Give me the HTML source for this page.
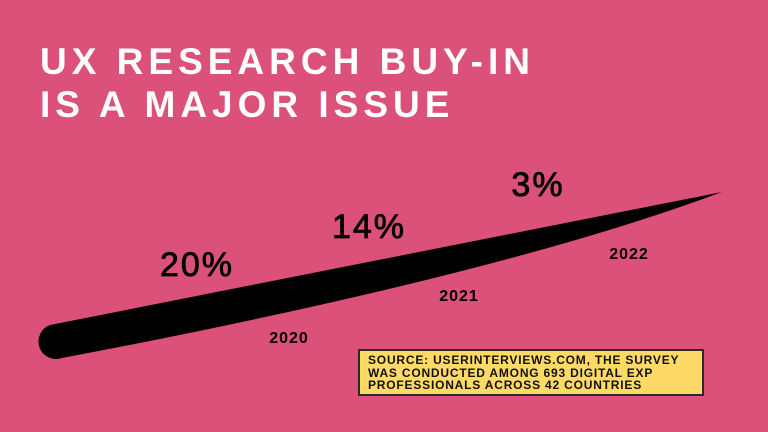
<!DOCTYPE html>
<html><head><meta charset="utf-8"><style>
body{margin:0;width:768px;height:432px;overflow:hidden;background:#dc5179;font-family:"Liberation Sans",sans-serif}
#title{position:absolute;left:40px;top:40px;color:#fff;font-weight:bold;font-size:37px;line-height:43px;letter-spacing:5px;margin:0}
#src{position:absolute;left:358px;top:349px;width:346px;height:47px;background:#fdd966;border:2px solid #2a2a2a;font-weight:bold;font-size:12px;line-height:12.5px;padding:3px 0 0 8px;box-sizing:border-box;letter-spacing:0.8px;color:#111}
</style></head><body>
<h1 id="title">UX RESEARCH BUY-IN<br>IS A MAJOR ISSUE</h1>
<svg width="768" height="432" style="position:absolute;left:0;top:0">
<path d="M50,325 L722,192 Q500,275 62,358 A17,17 0 0 1 50,325 Z" fill="#000"/>
<g id="labels"></g>
</svg>
<div id="src">SOURCE: USERINTERVIEWS.COM, THE SURVEY<br>WAS CONDUCTED AMONG 693 DIGITAL EXP<br>PROFESSIONALS ACROSS 42 COUNTRIES</div>
<script>
const years=["2020","2021","2022"];
const values=[20,14,3];
const xVal=i=>197+i*172;
const yVal=i=>276-i*38;
const xYear=i=>289+i*170;
const yYear=i=>343-i*42;
const g=document.getElementById('labels');
const ns="http://www.w3.org/2000/svg";
years.forEach((y,i)=>{
 const t=document.createElementNS(ns,'text');
 
 
 t.setAttribute('x',xVal(i)-(i==2?3:0));t.setAttribute('y',yVal(i)-(i==2?4:0));
 t.setAttribute('text-anchor','middle');t.setAttribute('font-size','34');t.setAttribute('letter-spacing','2');t.setAttribute('stroke','#000');t.setAttribute('stroke-width','0.8');t.setAttribute('fill','#000');
 t.textContent=values[i]+'%';g.appendChild(t);
 const u=document.createElementNS(ns,'text');
 
 
 u.setAttribute('x',xYear(i));u.setAttribute('y',yYear(i));
 u.setAttribute('text-anchor','middle');u.setAttribute('font-size','16');u.setAttribute('letter-spacing','1');u.setAttribute('font-weight','bold');u.setAttribute('fill','#000');
 u.textContent=y;g.appendChild(u);
});
</script>
</body></html>
